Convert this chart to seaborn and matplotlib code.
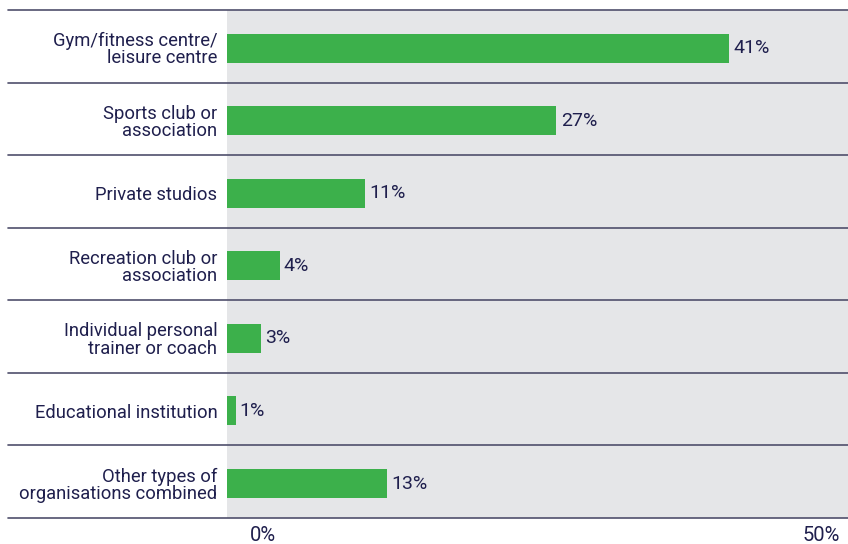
import numpy as np
import pandas as pd
import matplotlib
matplotlib.use('Agg')
import matplotlib.pyplot as plt
import matplotlib.transforms as mtransforms
import seaborn as sns

# ---- data ----
categories = [
    'Gym/fitness centre/\nleisure centre',
    'Sports club or\nassociation',
    'Private studios',
    'Recreation club or\nassociation',
    'Individual personal\ntrainer or coach',
    'Educational institution',
    'Other types of\norganisations combined',
]
# bar lengths (labels are the rounded values)
shares = [41.0, 26.9, 11.3, 4.3, 2.8, 0.7, 13.1]
share_labels = ['41%', '27%', '11%', '4%', '3%', '1%', '13%']
axis_ticks = [0, 50]

df = pd.DataFrame({'category': categories, 'share': shares})

navy = '#1f1f4d'
green = '#3cb04b'
panel = '#e5e6e8'

sns.set_theme(style='white')
plt.rcParams['font.family'] = ['Roboto', 'DejaVu Sans']

fig = plt.figure(figsize=(8.48, 5.44), dpi=100)
ax = fig.add_axes([227 / 848, 1 - 518 / 544, 1 - 227 / 848, 508 / 544])
ax.set_facecolor(panel)

sns.barplot(data=df, x='share', y='category', orient='h', color=green,
            width=0.4, saturation=1, linewidth=0, ax=ax)

# rows are drawn a touch below the centre of each band, as in the original
shift = 0.025
ax.set_xlim(0, 50.7)
ax.set_ylim(len(categories) - 0.5 - shift, -0.5 - shift)

# value labels
for i, (v, lab) in enumerate(zip(shares, share_labels)):
    ax.annotate(lab, (v, i), xytext=(3, 0), textcoords='offset points',
                ha='left', va='center', fontsize=14, color=navy)

# row separators reaching into the label area
for y in np.arange(-0.5, len(categories), 1.0) - shift:
    ax.axhline(y, xmin=-219 / 621, xmax=1, color='#4f4f6c', lw=1.2, clip_on=False, zorder=3)

ax.set_xlabel('')
ax.set_ylabel('')
ax.set_xticks([])
ax.tick_params(axis='y', length=0, pad=7, labelsize=13.2, labelcolor=navy)
for lab in ax.get_yticklabels():
    lab.set_linespacing(0.95)
for s in ax.spines.values():
    s.set_visible(False)

# axis end labels under the panel
trans = mtransforms.blended_transform_factory(ax.transData, ax.transAxes)
ax.text(axis_ticks[0], -0.015, f'{axis_ticks[0]}%',
        transform=trans + mtransforms.ScaledTranslation(23 / 100, 0, fig.dpi_scale_trans),
        ha='left', va='top', fontsize=14.5, color=navy)
ax.text(axis_ticks[1], -0.015, f'{axis_ticks[1]}%', transform=trans,
        ha='right', va='top', fontsize=14.5, color=navy)

fig.savefig('out.png', dpi=100)
